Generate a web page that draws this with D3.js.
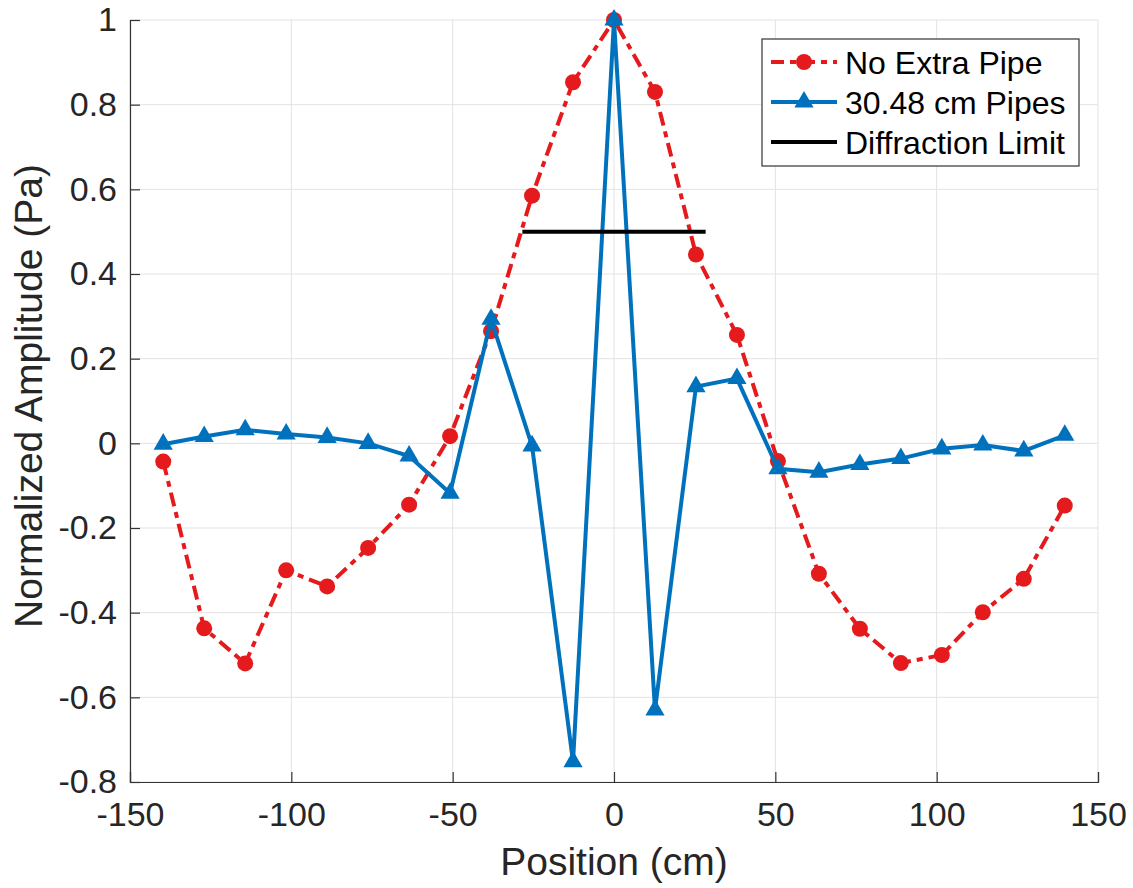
<!DOCTYPE html>
<html lang="en">
<head>
  <meta charset="UTF-8">
  <title>Normalized Amplitude vs Position</title>
  <script src="https://d3js.org/d3.v7.min.js"></script>
  <style>
    body { margin: 0; background: #fff; }
    svg { font-family: "Liberation Sans", Arial, sans-serif; }
    .grid line { stroke: #e3e3e3; stroke-width: 1; }
    .axis path, .axis line { stroke: #333; stroke-width: 1.2; }
    .axis text { fill: #262626; font-size: 34px; }
  </style>
</head>
<body>
<svg width="1133" height="888"></svg>
<script>
// positions along the array (cm)
const positions = [-139.7, -127, -114.3, -101.6, -88.9, -76.2, -63.5, -50.8, -38.1, -25.4, -12.7, 0,
                   12.7, 25.4, 38.1, 50.8, 63.5, 76.2, 88.9, 101.6, 114.3, 127, 139.7];

const noExtraPipe = [-0.043, -0.437, -0.52, -0.30, -0.338, -0.247, -0.145, 0.017, 0.265, 0.585, 0.853, 1.0,
                     0.83, 0.446, 0.256, -0.042, -0.308, -0.438, -0.519, -0.50, -0.399, -0.32, -0.147];

const pipes3048 = [-0.002, 0.016, 0.032, 0.022, 0.014, 0.0, -0.03, -0.118, 0.293, -0.006, -0.752, 1.0,
                   -0.63, 0.134, 0.153, -0.06, -0.068, -0.05, -0.036, -0.013, -0.004, -0.018, 0.019];

const diffX = [-28.4, 28.4];
const diffY = [0.5, 0.5];

const xTicks = [-150, -100, -50, 0, 50, 100, 150];
const yTicks = [-0.8, -0.6, -0.4, -0.2, 0, 0.2, 0.4, 0.6, 0.8, 1];

const legendNames = ["No Extra Pipe", "30.48 cm Pipes", "Diffraction Limit"];

const red = "#e41a1c", blue = "#0072bd";

const svg = d3.select("svg");
const m = { left: 130, right: 1098, top: 20, bottom: 782 };

const x = d3.scaleLinear().domain([-150, 150]).range([m.left, m.right]);
const y = d3.scaleLinear().domain([-0.8, 1]).range([m.bottom, m.top]);

// grid
svg.append("g").attr("class", "grid")
  .selectAll("line").data(xTicks).enter().append("line")
  .attr("x1", d => x(d)).attr("x2", d => x(d))
  .attr("y1", m.top).attr("y2", m.bottom);
svg.append("g").attr("class", "grid")
  .selectAll("line").data(yTicks).enter().append("line")
  .attr("x1", m.left).attr("x2", m.right)
  .attr("y1", d => y(d)).attr("y2", d => y(d));

// axes (ticks point inward), plain hyphen for minus like the original
const fmt = d => String(d);
svg.append("g").attr("class", "axis")
  .attr("transform", `translate(0,${m.bottom})`)
  .call(d3.axisTop(x).tickValues(xTicks).tickSizeOuter(0).tickSize(10).tickFormat(fmt))
  .call(g => g.selectAll("text").attr("y", 20).attr("dy", "0.71em"));

svg.append("g").attr("class", "axis")
  .attr("transform", `translate(${m.left},0)`)
  .call(d3.axisRight(y).tickValues(yTicks).tickSizeOuter(0).tickSize(10).tickFormat(fmt))
  .call(g => g.selectAll("text").attr("x", -13).attr("text-anchor", "end"));

// axis labels
svg.append("text")
  .attr("x", x(0)).attr("y", 875)
  .attr("text-anchor", "middle").attr("font-size", "39px").attr("fill", "#262626")
  .text("Position (cm)");
svg.append("text")
  .attr("transform", `translate(42,${(m.top + m.bottom) / 2 - 5}) rotate(-90)`)
  .attr("text-anchor", "middle").attr("font-size", "39px").attr("fill", "#262626")
  .text("Normalized Amplitude (Pa)");

const line = d3.line().x(d => x(d[0])).y(d => y(d[1]));

// red dash-dot series
const redPts = positions.map((p, i) => [p, noExtraPipe[i]]);
svg.append("path").datum(redPts)
  .attr("d", line).attr("fill", "none")
  .attr("stroke", red).attr("stroke-width", 4)
  .attr("stroke-dasharray", "14,6,6,6");
svg.selectAll("circle.red").data(redPts).enter().append("circle")
  .attr("cx", d => x(d[0])).attr("cy", d => y(d[1])).attr("r", 8)
  .attr("fill", red);

// blue solid series
const bluePts = positions.map((p, i) => [p, pipes3048[i]]);
const tri = d3.symbol().type(d3.symbolTriangle).size(160);
svg.append("path").datum(bluePts)
  .attr("d", line).attr("fill", "none")
  .attr("stroke", blue).attr("stroke-width", 4);
svg.selectAll("path.blue").data(bluePts).enter().append("path")
  .attr("class", "blue")
  .attr("d", tri)
  .attr("transform", d => `translate(${x(d[0])},${y(d[1])})`)
  .attr("fill", blue);

// diffraction limit
svg.append("path").datum(diffX.map((p, i) => [p, diffY[i]]))
  .attr("d", line).attr("fill", "none")
  .attr("stroke", "#000").attr("stroke-width", 4);

// legend
const lg = svg.append("g").attr("transform", "translate(762,39)");
lg.append("rect").attr("width", 317).attr("height", 127)
  .attr("fill", "#fff").attr("stroke", "#333").attr("stroke-width", 1.2);
const rowY = [23, 63, 103];
legendNames.forEach((name, i) => {
  const g = lg.append("g").attr("transform", `translate(0,${rowY[i]})`);
  const ln = g.append("line").attr("x1", 9).attr("x2", 75).attr("y1", 0).attr("y2", 0)
    .attr("stroke-width", 4);
  if (i === 0) {
    ln.attr("stroke", red).attr("stroke-dasharray", "13,6,6,6");
    g.append("circle").attr("cx", 42).attr("cy", 0).attr("r", 8).attr("fill", red);
  } else if (i === 1) {
    ln.attr("stroke", blue);
    g.append("path").attr("d", tri).attr("transform", "translate(42,0)").attr("fill", blue);
  } else {
    ln.attr("stroke", "#000");
  }
  g.append("text").attr("x", 83).attr("y", 0).attr("dy", "0.36em")
    .attr("font-size", "32px").attr("fill", "#000").text(name);
});
</script>
</body>
</html>
